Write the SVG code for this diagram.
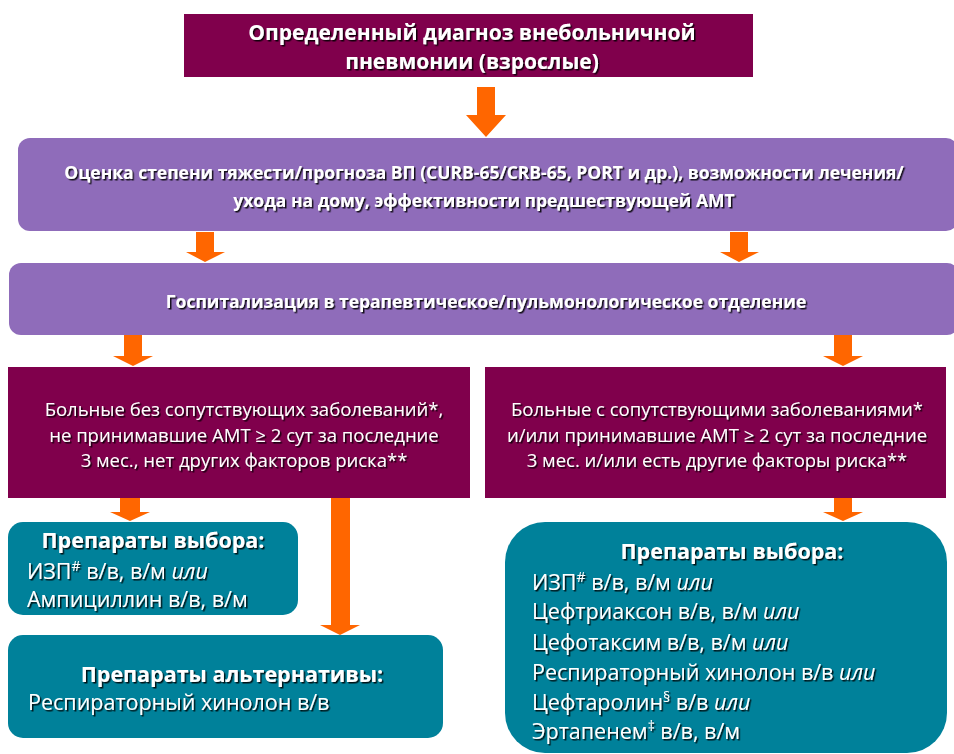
<svg xmlns="http://www.w3.org/2000/svg" width="954" height="754" viewBox="0 0 954 754">
<defs>
<filter id="sh" x="-5%" y="-20%" width="110%" height="140%">
<feDropShadow dx="1.5" dy="1.5" stdDeviation="0.4" flood-color="#000" flood-opacity="0.85"/>
</filter>
</defs>
<style>
.maroon{fill:#80004C}
.purple{fill:#8F6CBA}
.teal{fill:#00819A}
.arr{fill:#FF6600}
text{font-family:"Open Sans","DejaVu Sans",sans-serif;fill:#fff;filter:url(#sh)}
.b{font-weight:bold}
.c{text-anchor:middle}
.i{font-style:italic}
.t1{font-size:21px}
.t2{font-size:17.5px}
.t4{font-size:18.5px}
.t5{font-size:21.5px}
.sup{font-size:14px}
</style>
<rect width="954" height="754" fill="#fff"/>
<g id="connectors">
<polygon class="arr" points="477,87 495,87 495,115 506,115 486,137 466,115 477,115"/>
<polygon class="arr" points="196,232 214,232 214,252 225,252 205,262 186,252 196,252"/>
<polygon class="arr" points="730,232 748,232 748,252 759,252 739,262 720,252 730,252"/>
<polygon class="arr" points="124,335 142,335 142,356 153,356 133,366 113,356 124,356"/>
<polygon class="arr" points="834,335 852,335 852,356 863,356 843,366 823,356 834,356"/>
<polygon class="arr" points="120,498 140,498 140,512 150,512 130,521 110,512 120,512"/>
<polygon class="arr" points="834,498 852,498 852,512 863,512 843,521 823,512 834,512"/>
<polygon class="arr" points="331,498 350,498 350,625 360,625 340,635 320,625 331,625"/>
</g>
<g id="n1">
<rect class="maroon" x="184" y="14" width="569" height="63"/>
<text class="b c t1" x="472" y="40">Определенный диагноз внебольничной</text>
<text class="b c t1" x="472" y="69">пневмонии (взрослые)</text>
</g>
<g id="n2">
<rect class="purple" x="18" y="138" width="940" height="93" rx="12"/>
<text class="b c t2" x="484" y="179">Оценка степени тяжести/прогноза ВП (CURB-65/CRB-65, PORT и др.), возможности лечения/</text>
<text class="b c t2" x="484" y="207">ухода на дому, эффективности предшествующей АМТ</text>
</g>
<g id="n3">
<rect class="purple" x="9" y="263" width="950" height="72" rx="12"/>
<text class="b c t2" x="486" y="308">Госпитализация в терапевтическое/пульмонологическое отделение</text>
</g>
<g id="n4">
<rect class="maroon" x="8" y="367" width="462" height="131"/>
<text class="c t4" x="244" y="416">Больные без сопутствующих заболеваний*,</text>
<text class="c t4" x="244" y="442">не принимавшие АМТ ≥ 2 сут за последние</text>
<text class="c t4" x="244" y="467">3 мес., нет других факторов риска**</text>
</g>
<g id="n5">
<rect class="maroon" x="485" y="367" width="461" height="131"/>
<text class="c t4" x="717" y="416">Больные с сопутствующими заболеваниями*</text>
<text class="c t4" x="717" y="442">и/или принимавшие АМТ ≥ 2 сут за последние</text>
<text class="c t4" x="717" y="467">3 мес. и/или есть другие факторы риска**</text>
</g>
<g id="n6">
<rect class="teal" x="8" y="522" width="290" height="93" rx="15"/>
<text class="b c t5" x="153" y="548">Препараты выбора:</text>
<text class="t5" x="27" y="579">ИЗП<tspan class="sup" dy="-8">#</tspan><tspan dy="8"> в/в, в/м </tspan><tspan class="i">или</tspan></text>
<text class="t5" x="27" y="607">Ампициллин в/в, в/м</text>
</g>
<g id="n7">
<rect class="teal" x="8" y="635" width="435" height="103" rx="15"/>
<text class="b c t5" x="232" y="682">Препараты альтернативы:</text>
<text class="t5" x="28" y="710">Респираторный хинолон в/в</text>
</g>
<g id="n8">
<rect class="teal" x="505" y="522" width="442" height="231" rx="40"/>
<text class="b c t5" x="732" y="559">Препараты выбора:</text>
<text class="t5" x="532" y="590">ИЗП<tspan class="sup" dy="-8">#</tspan><tspan dy="8"> в/в, в/м </tspan><tspan class="i">или</tspan></text>
<text class="t5" x="532" y="619">Цефтриаксон в/в, в/м <tspan class="i">или</tspan></text>
<text class="t5" x="532" y="650">Цефотаксим в/в, в/м <tspan class="i">или</tspan></text>
<text class="t5" x="532" y="680">Респираторный хинолон в/в <tspan class="i">или</tspan></text>
<text class="t5" x="532" y="710">Цефтаролин<tspan class="sup" dy="-8">§</tspan><tspan dy="8"> в/в </tspan><tspan class="i">или</tspan></text>
<text class="t5" x="532" y="739">Эртапенем<tspan class="sup" dy="-8">‡</tspan><tspan dy="8"> в/в, в/м</tspan></text>
</g>
</svg>
